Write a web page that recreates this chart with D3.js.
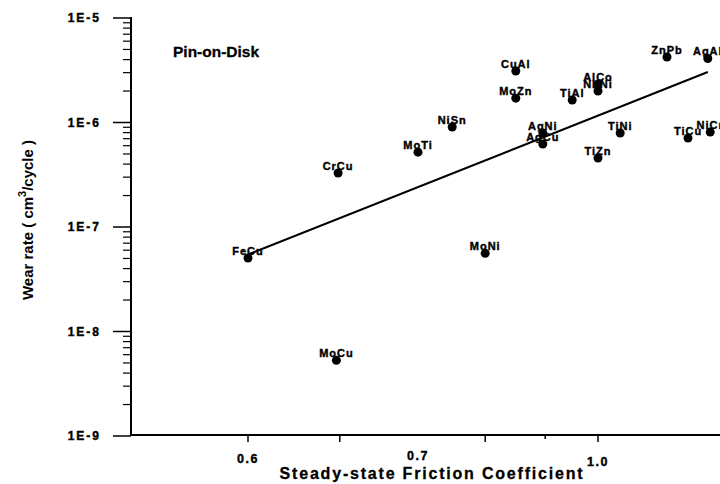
<!DOCTYPE html>
<html>
<head>
<meta charset="utf-8">
<script src="https://cdn.jsdelivr.net/npm/d3@7"></script>
<style>
  body { margin: 0; background: #fff; }
  svg { display: block; }
  text { font-family: "Liberation Sans", Arial, sans-serif; font-weight: bold; fill: #000; }
</style>
</head>
<body>
<div id="chart"></div>
<script>
// Datos
const names = ["FeCu", "MoCu", "MoNi", "CrCu", "MoTi", "NiSn", "CuAl", "MoZn", "TiAl",
  "AlCo", "NbNi", "ZnPb", "AgAl", "AgNi", "AgCu", "TiNi", "TiZn", "TiCu", "NiCr"];
const friction = [0.6, 0.652, 0.812, 0.653, 0.7, 0.757, 0.863, 0.863, 0.957,
  1.0, 1.0, 1.115, 1.183, 0.908, 0.908, 1.037, 1.0, 1.15, 1.187];
const wear = [5.05e-8, 5.3e-9, 5.6e-8, 3.29e-7, 5.2e-7, 9.06e-7, 3.11e-6, 1.71e-6, 1.64e-6,
  2.33e-6, 2.0e-6, 4.23e-6, 4.1e-6, 7.94e-7, 6.22e-7, 7.94e-7, 4.57e-7, 7.1e-7, 8.1e-7];

// Recta de ajuste (extremos)
const fitX = [0.6, 1.183];
const fitY = [5.45e-8, 3.04e-6];

// Ejes
const yTickValues = [1e-5, 1e-6, 1e-7, 1e-8, 1e-9];
const yTickLabels = ["1E-5", "1E-6", "1E-7", "1E-8", "1E-9"];
const xTickValues = [0.6, 0.7, 1.0];
const xTickLabels = ["0.6", "0.7", "1.0"];
const xTickMarks = [0.6, 0.654, 0.812, 0.912, 1.0];

const width = 720, height = 484;
const axisX = 131, axisY = 435;

const svg = d3.select('#chart').append('svg')
  .attr('width', width).attr('height', height);

// Escala x por tramos (la figura original no es uniforme)
const x = d3.scaleLinear().domain([0.6, 0.7, 1.0]).range([248, 418, 598]);
const y = d3.scaleLog().domain([1e-9, 1e-5]).range([436, 18]);

// Eje Y con marcas menores logarítmicas
const minor = [];
for (let e = -9; e < -5; e++) {
  for (let m = 2; m <= 9; m++) minor.push(m * Math.pow(10, e));
}
const yAxis = svg.append('g');
yAxis.append('line')
  .attr('x1', axisX).attr('x2', axisX)
  .attr('y1', y(1e-5) - 1).attr('y2', axisY + 1)
  .attr('stroke', '#000').attr('stroke-width', 2);
yAxis.selectAll('.ymajor').data(yTickValues).enter().append('line')
  .attr('x1', 113).attr('x2', axisX)
  .attr('y1', d => y(d)).attr('y2', d => y(d))
  .attr('stroke', '#000').attr('stroke-width', 1.5);
yAxis.selectAll('.yminor').data(minor).enter().append('line')
  .attr('x1', 123).attr('x2', axisX)
  .attr('y1', d => y(d)).attr('y2', d => y(d))
  .attr('stroke', '#000').attr('stroke-width', 1.2);
yAxis.selectAll('.ylab').data(yTickValues).enter().append('text')
  .attr('x', 101).attr('y', d => y(d))
  .attr('dy', '0.36em')
  .attr('text-anchor', 'end')
  .attr('font-size', 12)
  .attr('letter-spacing', 2)
  .attr('stroke', '#000').attr('stroke-width', 0.4)
  .text((d, i) => yTickLabels[i]);

// Eje X
const xAxis = svg.append('g');
xAxis.append('line')
  .attr('x1', axisX - 1).attr('x2', width)
  .attr('y1', axisY).attr('y2', axisY)
  .attr('stroke', '#000').attr('stroke-width', 2);
xAxis.selectAll('.xtick').data(xTickMarks).enter().append('line')
  .attr('x1', d => x(d)).attr('x2', d => x(d))
  .attr('y1', axisY).attr('y2', (d, i) => axisY + (i === 3 ? 4 : 7))
  .attr('stroke', '#000').attr('stroke-width', 1.5);
xAxis.selectAll('.xlab').data(xTickValues).enter().append('text')
  .attr('x', d => x(d)).attr('y', (d, i) => [463, 460, 466][i])
  .attr('text-anchor', 'middle')
  .attr('font-size', 12.5)
  .attr('letter-spacing', 1.5)
  .attr('stroke', '#000').attr('stroke-width', 0.4)
  .text((d, i) => xTickLabels[i]);

// Títulos
svg.append('text')
  .attr('x', 432).attr('y', 479)
  .attr('text-anchor', 'middle')
  .attr('font-size', 16)
  .attr('letter-spacing', 1.8)
  .attr('stroke', '#000').attr('stroke-width', 0.3)
  .text('Steady-state Friction Coefficient');

const yTitle = svg.append('text')
  .attr('transform', 'translate(33,220) rotate(-90)')
  .attr('text-anchor', 'middle')
  .attr('font-size', 15)
  .style('font-family', '"Liberation Sans Narrow", "Liberation Sans", Arial, sans-serif');
yTitle.append('tspan').text('Wear rate ( cm');
yTitle.append('tspan').attr('dy', -7).attr('font-size', 11).text('3');
yTitle.append('tspan').attr('dy', 7).text('/cycle )');

svg.append('text')
  .attr('x', 173).attr('y', 57)
  .attr('font-size', 15.5)
  .attr('stroke', '#000').attr('stroke-width', 0.3)
  .text('Pin-on-Disk');

// Recta de ajuste
const line = d3.line().x(d => x(d[0])).y(d => y(d[1]));
svg.append('path')
  .datum(fitX.map((v, i) => [v, fitY[i]]))
  .attr('d', line)
  .attr('fill', 'none')
  .attr('stroke', '#000')
  .attr('stroke-width', 2);

// Puntos y etiquetas
const pts = svg.append('g');
pts.selectAll('circle').data(names).enter().append('circle')
  .attr('cx', (d, i) => x(friction[i]))
  .attr('cy', (d, i) => y(wear[i]))
  .attr('r', 4.5)
  .attr('fill', '#000');
pts.selectAll('.plab').data(names).enter().append('text')
  .attr('x', (d, i) => x(friction[i]))
  .attr('y', (d, i) => y(wear[i]) - 3)
  .attr('text-anchor', 'middle')
  .attr('font-size', 11)
  .attr('letter-spacing', 1)
  .attr('stroke', '#000').attr('stroke-width', 0.4)
  .text(d => d);
</script>
</body>
</html>
